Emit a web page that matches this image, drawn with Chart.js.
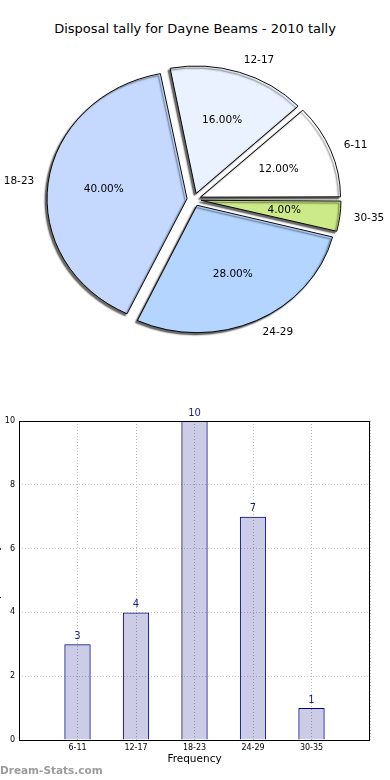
<!DOCTYPE html>
<html>
<head>
<meta charset="utf-8">
<script src="https://cdn.jsdelivr.net/npm/chart.js@4.4.1/dist/chart.umd.min.js"></script>
<style>
  html,body{margin:0;padding:0;background:#fff;width:390px;height:780px;overflow:hidden;position:relative;font-family:"DejaVu Sans",sans-serif;}
  #title{position:absolute;left:0;top:21px;width:390px;text-align:center;font-size:13px;color:#000;}
  #pieWrap{position:absolute;left:0;top:0;width:390px;height:390px;}
  #barWrap{position:absolute;left:0;top:390px;width:390px;height:390px;}
  #ylab{position:absolute;left:-55px;top:574px;width:100px;text-align:center;font-size:10.5px;transform:rotate(-90deg);color:#000;white-space:nowrap;}
  #wm{position:absolute;left:0;top:764px;font-size:10.5px;font-weight:bold;color:#9c9c9c;white-space:nowrap;}
</style>
</head>
<body>
<div id="title">Disposal tally for Dayne Beams - 2010 tally</div>
<div id="pieWrap"><canvas id="pie" width="390" height="390"></canvas></div>
<div id="barWrap"><canvas id="bar" width="390" height="390"></canvas></div>
<div id="ylab">Disposal Tally</div>
<div id="wm">Dream-Stats.com</div>
<script>
// ---- data ----
const categories = ['6-11', '12-17', '18-23', '24-29', '30-35'];
const counts = [3, 4, 10, 7, 1];
const pieColors = ['#ffffff', '#ebf2ff', '#c5d9ff', '#b3d5ff', '#cdea88'];
const yTicks = [0, 2, 4, 6, 8, 10];

const FONT = '"DejaVu Sans", sans-serif';
const SY = -0.91; // vertical squash + flip (counter-clockwise like matplotlib)
const PIE_R = 140;
const EXPLODE = 28; // Chart.js translates arcs by offset/4

const total = counts.reduce((a, b) => a + b, 0);

const pieTransform = {
  id: 'pieTransform',
  afterDatasetUpdate(chart) {
    chart.getDatasetMeta(0).data.forEach(arc => {
      const circ = arc.endAngle - arc.startAngle;
      const fix = 1 - Math.sin(Math.min(Math.PI, circ));
      arc.outerRadius = PIE_R - (EXPLODE / 4) * fix;
    });
  },
  beforeDatasetsDraw(chart) {
    const a = chart.getDatasetMeta(0).data[0];
    const ctx = chart.ctx;
    ctx.save();
    ctx.translate(a.x, a.y);
    ctx.scale(1, SY);
    ctx.translate(-a.x, -a.y);
    ctx.shadowColor = 'rgba(0,0,0,0.6)';
    ctx.shadowOffsetX = -2;
    ctx.shadowOffsetY = 2;
    ctx.shadowBlur = 1.5;
  },
  afterDatasetsDraw(chart) {
    const ctx = chart.ctx;
    ctx.restore();
    const meta = chart.getDatasetMeta(0);
    ctx.save();
    ctx.fillStyle = '#000';
    ctx.font = '10.5px ' + FONT;
    ctx.textBaseline = 'middle';
    meta.data.forEach((arc, i) => {
      const mid = (arc.startAngle + arc.endAngle) / 2;
      const off = (arc.options.offset || 0) / 4;
      const R = PIE_R;
      const c = Math.cos(mid), s = Math.sin(mid);
      const dl = off + 1.1 * R;
      const lx = arc.x + c * dl, ly = arc.y + s * dl * SY;
      ctx.textAlign = c > 0 ? 'left' : 'right';
      ctx.fillText(categories[i], lx, ly);
      const dp = off + 0.6 * R;
      const px = arc.x + c * dp, py = arc.y + s * dp * SY;
      ctx.textAlign = 'center';
      ctx.fillText((counts[i] / total * 100).toFixed(2) + '%', px, py);
    });
    ctx.restore();
  }
};

new Chart(document.getElementById('pie'), {
  type: 'pie',
  data: {
    labels: categories,
    datasets: [{
      data: counts,
      backgroundColor: pieColors,
      borderColor: '#000',
      borderWidth: 1,
      offset: EXPLODE,
      clip: false
    }]
  },
  options: {
    responsive: false,
    animation: false,
    rotation: 90,
    radius: PIE_R,
    layout: { padding: { left: 50, right: 52, top: 61, bottom: 52 } },
    plugins: { legend: { display: false }, tooltip: { enabled: false }, title: { display: false } }
  },
  plugins: [pieTransform]
});

const frameAndLabels = {
  id: 'frameAndLabels',
  afterDraw(chart) {
    const ctx = chart.ctx;
    const a = chart.chartArea;
    ctx.save();
    ctx.strokeStyle = '#000';
    ctx.lineWidth = 1;
    ctx.strokeRect(Math.round(a.left) + 0.5, Math.round(a.top) + 0.5,
      Math.round(a.right - a.left) - 1, Math.round(a.bottom - a.top));
    const meta = chart.getDatasetMeta(0);
    ctx.fillStyle = '#1a1a8c';
    ctx.font = '10px ' + FONT;
    ctx.textAlign = 'center';
    ctx.textBaseline = 'bottom';
    meta.data.forEach((bar, i) => {
      ctx.fillText(String(counts[i]), bar.x, bar.y - 3);
    });
    ctx.restore();
  }
};

new Chart(document.getElementById('bar'), {
  type: 'bar',
  data: {
    datasets: [{
      data: categories.map((c, i) => ({ x: i, y: counts[i] })),
      backgroundColor: 'rgba(0,0,128,0.2)',
      borderColor: '#000080',
      borderWidth: 1,
      barPercentage: 0.45,
      categoryPercentage: 1.0
    }]
  },
  options: {
    responsive: false,
    animation: false,
    layout: { padding: { left: 0, right: 20, top: 31, bottom: 0 } },
    plugins: { legend: { display: false }, tooltip: { enabled: false } },
    scales: {
      x: {
        type: 'linear',
        offset: false,
        min: -1, max: 5,
        afterFit(s) { s.height = 40; },
        afterBuildTicks(s) { s.ticks = [-1, 0, 1, 2, 3, 4, 5].map(v => ({ value: v })); },
        ticks: {
          stepSize: 1,
          padding: 3,
          color: '#000',
          font: { family: FONT, size: 8 },
          maxRotation: 0,
          autoSkip: false,
          callback: (v) => categories[v] !== undefined ? categories[v] : ''
        },
        grid: { offset: false, color: '#b8b8b8', lineWidth: 1, drawTicks: false },
        border: { display: false, dash: [1, 2] },
        title: { display: true, text: 'Frequency', color: '#000', font: { family: FONT, size: 10.5 }, padding: { top: 0, bottom: 14 } }
      },
      y: {
        min: 0, max: 10,
        afterFit(s) { s.width = 19; },
        afterBuildTicks(s) { s.ticks = yTicks.map(v => ({ value: v })); },
        ticks: { padding: 4, color: '#000', font: { family: FONT, size: 8 } },
        grid: { color: '#c4c4c4', lineWidth: 1, drawTicks: false },
        border: { display: false, dash: [1, 2] }
      }
    }
  },
  plugins: [frameAndLabels]
});
</script>
</body>
</html>
